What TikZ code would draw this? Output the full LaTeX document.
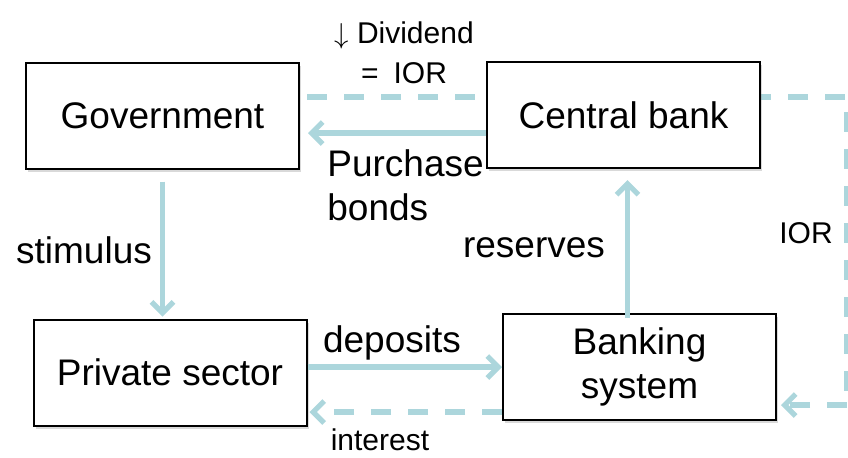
\documentclass[tikz,border=0pt]{standalone}
\usepackage{fontspec}
\setmainfont{Liberation Sans}
\usetikzlibrary{arrows.meta,shadows,backgrounds}

\definecolor{flowblue}{RGB}{172,214,220}
\newcommand{\boxfont}{\fontsize{18.5}{22}\selectfont}
\newcommand{\notefont}{\fontsize{15}{20}\selectfont}

\begin{document}
\begin{tikzpicture}[x=0.5pt,y=-0.5pt,
    sector/.style={draw,line width=1pt,fill=white,align=center,font=\boxfont,
        minimum width=136.5pt,minimum height=53pt,
        drop shadow={shadow xshift=1.2pt,shadow yshift=-1.5pt,opacity=0.3}},
    flow/.style={flowblue,line width=2.6pt,-{Straight Barb[length=5.5pt,width=11pt]}},
    flowdash/.style={flow,dash pattern=on 10pt off 8.5pt},
    bigtext/.style={inner sep=0pt,font=\boxfont},
    smalltext/.style={inner sep=0pt,font=\notefont}]
    \useasboundingbox (0,0) rectangle (848,457);
    % the four sectors
    \node[sector] (gov) at (162.5,115.5) {Government};
    \node[sector] (cb) at (623.5,115) {Central bank};
    \node[sector] (priv) at (170,372.5) {Private sector};
    \node[sector] (bank) at (639.5,367) {Banking\\system};
    % interest on reserves, behind the central bank
    \coordinate (iorstart) at (307,97);
    \coordinate (iortop) at (847,97);
    \coordinate (iorbottom) at (847,405);
    \begin{scope}[on background layer]
        \draw[flowdash,-] (iorstart) -- (iortop) -- (iorbottom);
    \end{scope}
    \draw[flowdash,shorten >=2pt] (iorbottom) -- (bank.east |- iorbottom);
    % flows between sectors
    \draw[flow,shorten >=4pt] ([yshift=-9pt]cb.west) -- ([yshift=-9pt]cb.west -| gov.east);
    \draw[flow,shorten <=6pt,shorten >=1pt] (gov.south) -- (gov.south |- priv.north);
    \draw[flow,shorten <=-2.5pt,shorten >=5.5pt] ([xshift=-6pt]bank.north) -- ([xshift=-6pt]bank.north |- cb.south);
    \draw[flow] (priv.east |- bank.west) -- (bank.west);
    \draw[flowdash,shorten >=1pt] ([yshift=-22.5pt]bank.west) -- ([yshift=-22.5pt]bank.west -| priv.east);
    % labels
    \node[smalltext,align=center] (dividend) at (404,53) {$\downarrow$ Dividend\\=\enspace IOR};
    \node[smalltext] (ior) at (806,233) {IOR};
    \node[bigtext,align=left,anchor=west] (purchase) at (327,185) {Purchase\\bonds};
    \node[bigtext] (stimulus) at (84,250) {stimulus};
    \node[bigtext] (reserves) at (534,248) {reserves};
    \node[bigtext] (deposits) at (392,343) {deposits};
    \node[smalltext] (interest) at (380,440) {interest};
\end{tikzpicture}
\end{document}
